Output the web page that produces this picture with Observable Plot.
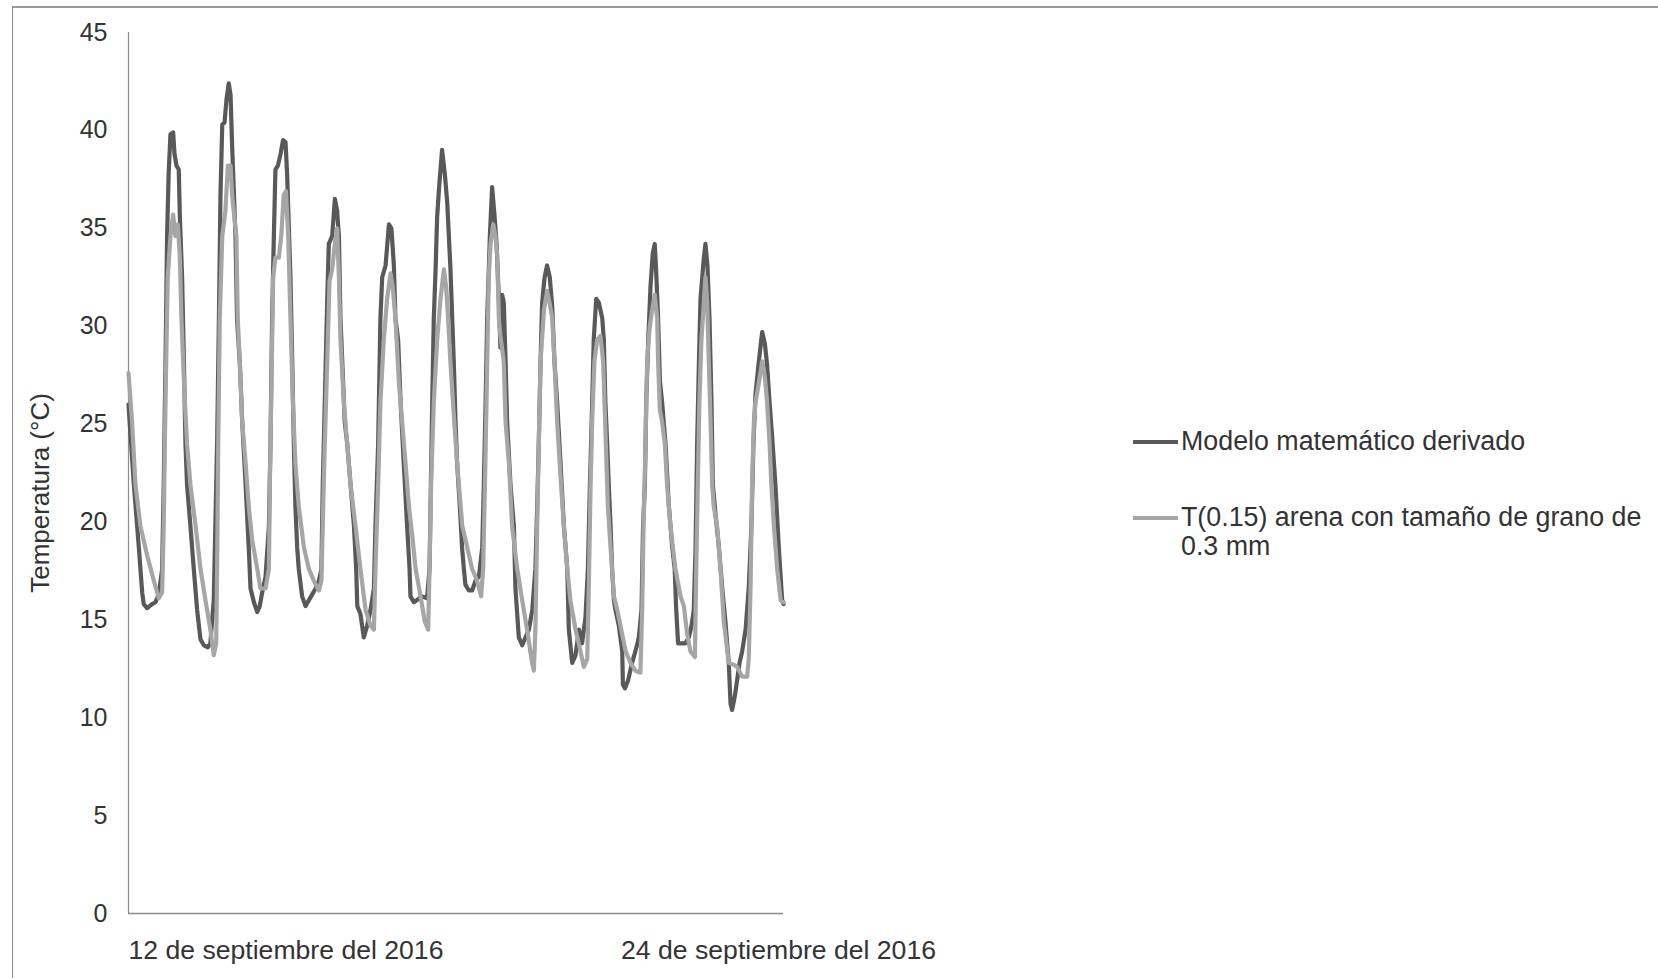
<!DOCTYPE html>
<html lang="es">
<head>
<meta charset="utf-8">
<script src="https://cdn.jsdelivr.net/npm/d3@7"></script>
<script src="https://cdn.jsdelivr.net/npm/@observablehq/plot@0.6"></script>
<style>
  html, body { margin: 0; padding: 0; background: #fff; }
  #page { position: relative; width: 1658px; height: 978px; overflow: hidden;
          font-family: "Liberation Sans", Arial, sans-serif; color: #333; }
  #frame { position: absolute; left: 12px; top: 6px; width: 1700px; height: 1100px;
           border-top: 2px solid #9a9a9a; border-left: 1.5px solid #8a8a8a; }
  #chart { position: absolute; left: 0; top: 0; }
  #legend { position: absolute; left: 1133px; top: 0; font-size: 26.8px; line-height: 29px; }
  .item { position: absolute; left: 0; display: flex; align-items: flex-start; white-space: nowrap; }
  .swatch { width: 45px; height: 4px; margin-top: 12.5px; margin-right: 3px; flex: none; }
  .txt { white-space: normal; width: 485px; }
</style>
</head>
<body>
<div id="page">
  <div id="frame"></div>
  <div id="chart"></div>
  <div id="legend"></div>
</div>
<script>
// ---- data (hours since start of 12 Sept 2016, temperature °C) ----
const seriesNames = ["Modelo matemático derivado", "T(0.15) arena con tamaño de grano de 0.3 mm"];
const seriesColors = ["#595959", "#a6a6a6"];

const modeloHoras = [0,2.4,4.6,6.1,6.8,8.3,10.5,12.0,13.5,15.0,15.7,16.5,17.2,17.9,18.7,19.9,20.5,21.4,22.4,22.9,23.9,24.7,25.4,26.1,27.6,29.1,30.6,32.1,33.6,35.4,36.5,38.0,39.5,40.3,41.0,41.8,42.8,43.7,44.7,45.5,46.2,47.7,48.4,49.6,50.7,52.2,53.6,54.4,55.9,57.4,58.5,59.6,61.1,62.6,63.3,64.0,64.8,65.5,66.6,67.8,68.9,70.0,70.7,72.2,73.0,73.7,74.4,75.2,75.9,77.4,78.9,81.9,83.4,84.9,86.0,86.6,87.5,88.6,89.3,90.8,92.0,93.0,93.8,94.5,95.3,96.4,97.5,99.0,100.5,101.5,102.0,103.4,104.9,106.4,107.9,109.4,110.1,111.3,112.3,113.1,114.6,116.1,117.2,118.3,119.0,120.2,121.3,122.7,124.2,125.3,125.7,127.2,130.9,133.1,134.2,134.8,135.4,136.1,136.9,137.6,138.6,139.8,141.0,142.1,143.5,145.0,145.8,146.5,147.7,148.7,149.5,150.2,151.7,153.2,154.7,156.2,157.7,158.4,159.2,159.9,161.1,162.1,163.2,164.1,165.1,165.8,166.6,167.3,168.1,168.8,170.3,171.8,172.5,174.0,175.5,177.0,178.5,180.0,181.4,182.2,182.9,183.7,184.4,185.5,186.6,187.8,188.9,189.9,191.1,192.6,194.1,195.6,196.3,197.8,199.3,200.8,202.2,203.7,204.8,205.7,206.7,207.4,208.5,209.7,211.2,211.9,212.6,213.4,214.1,214.9,215.6,216.4,217.1,218.6,220.1,220.4,221.3,222.7,224.5,226.0,227.5,228.7,229.4,230.2,230.8,231.7,232.7,233.7,234.6,235.2,236.1,236.9,237.9,238.6,239.4,240.9,242.4,243.5,244.1,245.0,246.8,248.3,249.8,251.0,252.0,252.8,253.5,254.3,255.0,256.5,257.2,258.1,259.0,259.9,260.5,261.7,263.2,264.7,266.1,267.6,268.4,269.1,270.3,271.3,272.4,273.6,275.1,276.5,277.7,278.6,279.5,281.0,282.5,283.7,284.7,285.8,286.9,288.4,289.9,291.4,292];
const modeloTemp = [26.0,21.9,18.7,16.4,15.8,15.6,15.8,15.9,16.3,17.6,21.9,28.2,34.6,37.8,39.8,39.9,38.8,38.2,38.0,35.6,32.5,28.2,24.0,21.9,19.8,17.6,15.5,14.0,13.7,13.6,13.8,16.0,24.0,30.3,36.7,40.3,40.4,41.6,42.4,41.8,39.2,34.6,30.3,28.2,25.1,21.9,18.7,16.6,15.9,15.4,15.7,16.4,17.2,19.8,24.0,30.3,34.6,38.0,38.2,38.8,39.5,39.4,37.8,32.5,28.2,24.0,20.8,18.7,17.6,16.2,15.7,16.3,16.6,17.0,17.6,21.9,26.1,31.4,34.2,34.6,36.5,35.9,34.6,30.4,28.2,25.1,24.0,21.9,19.8,17.6,15.7,15.3,14.1,14.7,15.5,16.6,19.8,24.0,30.4,32.5,33.1,35.2,35.0,33.1,30.4,29.3,26.1,23.0,19.8,17.6,16.2,15.9,16.2,16.1,17.6,21.9,26.1,30.4,32.9,35.6,37.3,39.0,37.8,36.3,33.0,28.2,25.1,23.0,20.8,18.7,17.6,16.8,16.5,16.5,17.0,17.2,18.7,21.9,26.1,30.4,34.6,37.1,35.6,34.2,31.4,28.9,31.6,31.2,28.2,25.1,21.9,19.8,16.6,14.1,13.7,14.1,14.5,15.5,17.6,20.8,24.0,28.2,31.2,32.5,33.1,32.5,31.0,28.2,26.1,23.0,19.8,17.6,14.5,12.8,13.2,14.5,13.8,15.1,17.6,21.9,26.1,29.3,31.4,31.2,30.4,29.3,26.1,24.0,21.9,19.8,17.6,16.0,15.5,14.7,13.4,11.7,11.5,11.9,12.8,13.4,14.1,15.5,19.8,21.9,26.1,29.3,32.0,33.7,34.2,32.9,30.4,27.2,26.1,25.1,24.0,20.8,18.7,17.6,15.7,13.8,13.8,13.8,14.1,14.7,15.5,18.7,24.0,28.2,31.4,33.5,34.2,33.1,30.4,26.1,21.9,20.4,18.7,16.6,14.9,12.8,10.7,10.4,11.1,11.9,12.8,13.4,14.5,16.6,19.8,24.0,26.5,28.2,29.7,29.1,28.0,26.1,24.4,21.9,18.7,16.0,15.8];

const arenaHoras = [0,1.6,3.1,5.3,8.3,11.3,13.5,15.0,15.7,16.2,16.8,17.5,18.7,19.9,20.9,22.0,22.9,23.6,24.7,26.1,27.6,29.9,32.1,34.3,36.5,38.0,39.1,39.5,40.0,40.7,41.8,43.2,44.3,45.5,46.2,46.9,48.1,48.7,49.6,50.7,52.2,53.6,55.1,57.4,58.8,61.1,62.6,63.0,63.6,64.5,65.5,67.0,68.1,69.2,70.2,71.2,72.2,73.3,74.4,75.9,78.2,80.4,82.6,84.9,86.0,86.6,87.5,88.6,89.6,90.8,92.0,93.0,93.8,94.5,96.0,97.5,99.0,101.2,103.4,105.7,107.9,109.4,110.1,111.3,112.3,113.8,115.3,116.8,117.8,119.0,120.5,122.0,123.5,125.0,126.5,128.0,130.2,132.1,133.6,134.2,134.9,136.1,137.6,139.1,140.6,141.6,142.5,143.5,145.0,146.5,148.8,151.0,153.2,155.4,157.2,158.1,158.9,159.6,160.6,161.4,162.6,163.6,164.4,165.1,165.8,167.3,168.1,169.6,171.0,173.3,175.5,177.7,179.9,180.7,181.4,182.2,182.9,183.7,185.2,186.6,187.7,188.9,189.9,191.1,192.6,194.1,195.6,197.0,199.3,201.5,203.0,204.5,205.2,206.0,206.7,207.7,208.9,210.4,211.6,212.2,212.8,213.7,214.9,216.4,217.9,219.3,221.6,223.8,226.0,228.2,229.0,229.6,230.5,231.2,232.3,233.4,234.6,235.7,236.1,236.9,237.9,239.1,240.1,241.6,243.8,246.1,247.6,249.0,250.5,252.5,253.1,253.8,254.5,255.4,256.5,257.2,258.0,258.7,259.5,260.2,260.9,262.4,263.9,265.4,267.6,269.9,271.3,273.6,275.8,276.5,277.3,278.0,278.8,279.5,280.7,281.7,282.5,283.7,284.7,285.8,286.6,287.7,289.2,290.7,292];
const arenaTemp = [27.6,25.1,21.9,19.8,18.3,17.0,16.1,16.4,19.8,24.0,28.2,32.5,34.6,35.7,34.6,35.2,33.5,30.4,27.2,24.0,21.9,19.8,17.6,16.0,14.5,13.2,13.8,17.6,24.0,30.4,34.6,35.9,38.2,38.2,36.7,35.9,34.6,30.4,28.2,25.1,23.0,20.8,19.1,17.6,16.6,16.6,17.6,21.9,26.1,32.5,33.5,33.5,34.6,36.7,36.9,34.6,30.4,26.1,23.0,20.8,18.7,17.6,17.0,16.5,17.0,19.8,24.0,28.2,32.3,32.9,34.2,35.0,32.5,29.3,26.1,24.0,21.9,19.8,17.6,15.5,14.7,14.5,17.6,21.9,26.1,29.3,31.4,32.7,32.0,30.4,27.2,25.1,23.0,20.8,19.3,17.6,16.2,14.9,14.5,17.6,21.9,26.1,29.3,31.4,32.9,32.0,30.4,28.2,25.5,23.0,19.8,18.7,17.6,17.0,16.2,17.6,21.9,26.1,32.5,34.2,35.2,34.6,33.5,30.4,29.5,28.2,25.1,23.0,19.8,17.6,16.0,14.5,12.8,12.4,14.5,19.8,24.0,28.2,30.8,31.8,31.2,30.4,28.2,25.1,22.3,19.8,17.6,16.0,14.5,13.4,12.6,13.0,16.6,21.9,25.1,28.2,29.3,29.5,28.2,26.1,24.0,20.8,18.7,16.2,15.5,14.7,13.4,12.8,12.4,12.3,15.5,19.8,24.0,28.2,29.9,30.8,31.6,30.4,28.2,25.7,25.1,24.0,21.9,19.8,17.6,16.2,15.7,14.3,13.4,13.1,17.6,21.9,26.1,29.3,31.2,32.5,31.2,28.2,25.1,21.9,20.8,19.8,17.6,14.9,12.8,12.7,12.6,12.1,12.1,13.0,16.6,21.9,25.1,26.1,26.9,27.6,28.2,27.4,26.1,24.0,21.9,19.8,17.6,16.0,15.9];

const yTicks = [0, 5, 10, 15, 20, 25, 30, 35, 40, 45];
const xTickHoras = [0, 288];
const xTickLabels = ["12 de septiembre del 2016", "24 de septiembre del 2016"];
const yLabel = "Temperatura (°C)";

// ---- build tables ----
const modeloRows = modeloHoras.map((h, i) => ({hora: h, temp: modeloTemp[i], serie: seriesNames[0]}));
const arenaRows = arenaHoras.map((h, i) => ({hora: h, temp: arenaTemp[i], serie: seriesNames[1]}));
const fmtX = d => xTickLabels[xTickHoras.indexOf(d)];

const chart = Plot.plot({
  width: 800,
  height: 978,
  marginLeft: 128,
  marginRight: 17,
  marginTop: 32,
  marginBottom: 65,
  style: {fontFamily: "'Liberation Sans', Arial, sans-serif", fontSize: "25px", color: "#333", background: "transparent", overflow: "visible"},
  x: {domain: [0, 292]},
  y: {domain: [0, 45]},
  marks: [
    Plot.axisY({ticks: yTicks, tickSize: 0, tickPadding: 21, label: null, fontSize: 25}),
    Plot.axisX({ticks: [xTickHoras[0]], tickFormat: fmtX, tickSize: 0, tickPadding: 27, textAnchor: "start", label: null, fontSize: 26.6}),
    Plot.axisX({ticks: [xTickHoras[1]], tickFormat: fmtX, tickSize: 0, tickPadding: 27, textAnchor: "middle", dx: 4, label: null, fontSize: 26.6}),
    Plot.text([yLabel], {text: d => d, frameAnchor: "left", textAnchor: "middle", rotate: -90, dx: -88, dy: 20, fontSize: 26, fill: "#333"}),
    Plot.ruleY([0], {stroke: "#8c8c8c", strokeWidth: 1.5}),
    Plot.ruleX([0], {stroke: "#8c8c8c", strokeWidth: 1.2}),
    Plot.line(modeloRows, {x: "hora", y: "temp", stroke: seriesColors[0], strokeWidth: 4.2, strokeLinejoin: "round"}),
    Plot.line(arenaRows, {x: "hora", y: "temp", stroke: seriesColors[1], strokeWidth: 4.2, strokeLinejoin: "round"})
  ]
});
document.getElementById("chart").appendChild(chart);

// ---- legend ----
const legend = document.getElementById("legend");
const legendTops = [427, 503];
seriesNames.forEach((name, i) => {
  const item = document.createElement("div");
  item.className = "item";
  item.style.top = legendTops[i] + "px";
  const sw = document.createElement("div");
  sw.className = "swatch";
  sw.style.background = seriesColors[i];
  const tx = document.createElement("div");
  tx.className = "txt";
  tx.textContent = name;
  item.appendChild(sw);
  item.appendChild(tx);
  legend.appendChild(item);
});
</script>
</body>
</html>
